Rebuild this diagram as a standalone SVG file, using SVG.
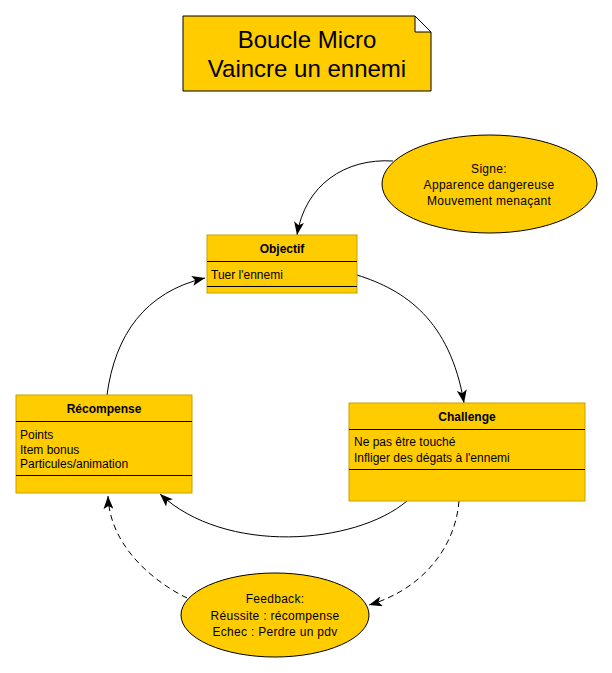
<svg xmlns="http://www.w3.org/2000/svg" width="612" height="673" viewBox="0 0 612 673">
<defs>
<style>
text{font-family:"Liberation Sans",Arial,sans-serif;fill:#000}
.box{fill:#ffcc00;stroke:#c9a000;stroke-width:1}
.div{stroke:#000;stroke-width:1}
.ell{fill:#ffcc00;stroke:#000;stroke-width:1}
.t{font-size:12px;font-weight:bold;text-anchor:middle}
.b{font-size:12px}
.c{font-size:12px;text-anchor:middle;letter-spacing:0.3px}
.ttl{font-size:24px;text-anchor:middle}
.edge{fill:none;stroke:#000;stroke-width:1;marker-end:url(#arr)}
.dash{stroke-dasharray:6,4}
</style>
<marker id="arr" viewBox="0 0 14 10" refX="13" refY="5" markerWidth="14" markerHeight="10" markerUnits="userSpaceOnUse" orient="auto">
<path d="M0,0 L13,5 L0,10 L3,5 z" fill="#000"/>
</marker>
</defs>
<rect width="612" height="673" fill="#fff"/>
<g id="title">
<path d="M183,16 L415,16 L431,32 L431,91 L183,91 z" fill="#ffcc00" stroke="#000" stroke-width="1"/>
<path d="M415,16 L415,32 L431,32 z" fill="#fff" stroke="#000" stroke-width="1"/>
<text class="ttl" x="307" y="48">Boucle Micro</text>
<text class="ttl" x="307" y="77">Vaincre un ennemi</text>
</g>
<g id="connectors">
<path class="edge" d="M393,161 C345,158 305,185 297,235"/>
<path class="edge" d="M357,275 C405,290 450,320 464,403"/>
<path class="edge" d="M407,501 C355,545 225,555 160,494"/>
<path class="edge" d="M107,395 C115,335 145,292 205,278"/>
<path class="edge dash" d="M459,501 C455,550 420,590 369,605"/>
<path class="edge dash" d="M187,598 C160,585 110,550 108,496"/>
</g>
<g id="signe">
<ellipse class="ell" cx="489.5" cy="184" rx="107.5" ry="49"/>
<text class="c" x="489" y="173">Signe:</text>
<text class="c" x="489" y="189">Apparence dangereuse</text>
<text class="c" x="489" y="205">Mouvement menaçant</text>
</g>
<g id="objectif">
<rect class="box" x="207" y="235" width="150" height="58"/>
<line class="div" x1="207" y1="261.5" x2="357" y2="261.5"/>
<line class="div" x1="207" y1="286.5" x2="357" y2="286.5"/>
<text class="t" x="282" y="253">Objectif</text>
<text class="b" x="211" y="279">Tuer l'ennemi</text>
</g>
<g id="recompense">
<rect class="box" x="16" y="395" width="176" height="98"/>
<line class="div" x1="16" y1="421.5" x2="192" y2="421.5"/>
<line class="div" x1="16" y1="475.5" x2="192" y2="475.5"/>
<text class="t" x="104" y="413">Récompense</text>
<text class="b" x="20" y="439">Points</text>
<text class="b" x="20" y="454">Item bonus</text>
<text class="b" x="20" y="468">Particules/animation</text>
</g>
<g id="challenge">
<rect class="box" x="349" y="403" width="236" height="98"/>
<line class="div" x1="349" y1="429.5" x2="585" y2="429.5"/>
<line class="div" x1="349" y1="469.5" x2="585" y2="469.5"/>
<text class="t" x="467" y="421">Challenge</text>
<text class="b" x="354" y="446">Ne pas être touché</text>
<text class="b" x="354" y="462">Infliger des dégats à l'ennemi</text>
</g>
<g id="feedback">
<ellipse class="ell" cx="275" cy="615" rx="94" ry="42"/>
<text class="c" x="275" y="603">Feedback:</text>
<text class="c" x="275" y="620">Réussite : récompense</text>
<text class="c" x="275" y="636">Echec : Perdre un pdv</text>
</g>
</svg>
